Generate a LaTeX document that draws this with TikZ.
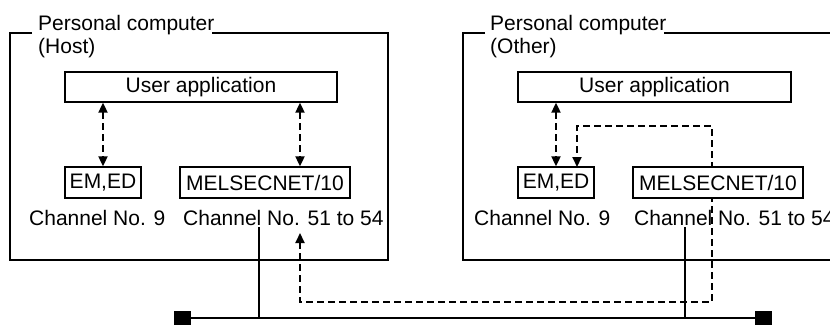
\documentclass[tikz,border=0pt]{standalone}
\usepackage{fontspec}
\setmainfont{Liberation Sans}
\usetikzlibrary{arrows.meta}
\begin{document}
\begin{tikzpicture}[x=1pt,y=-1pt,
  font=\fontsize{21}{25}\selectfont,
  frame/.style={line width=1.4pt},
  boxnode/.style={draw,line width=1.4pt,fill=white,inner sep=0pt,minimum height=30pt},
  txt/.style={inner sep=0pt,anchor=base west},
  darr/.style={line width=2.1pt,dash pattern=on 7pt off 4pt,{Triangle[length=10pt,width=9pt]}-{Triangle[length=10pt,width=9pt]}},
  solidline/.style={line width=2.1pt},
  term/.style={fill=black,inner sep=0pt,minimum width=17pt,minimum height=14pt}
]
\useasboundingbox (0,0) rectangle (830,324);
\clip (0,0) rectangle (830,324);

% frames
\draw[frame] (32,33) -- (10,33) -- (10,260) -- (388,260) -- (388,33) -- (212,33);
\draw[frame] (485,33) -- (463,33) -- (463,260) -- (845,260) -- (845,33) -- (664,33);

% titles
\node[txt] (t1) at (38,30) {Personal computer};
\node[txt] (h1) at (38,53) {(Host)};
\node[txt] (t2) at (490,30) {Personal computer};
\node[txt] (h2) at (490,53) {(Other)};

% dashed cross-station path (drawn under boxes)
\coordinate (dA) at (300,233);
\coordinate (dB) at (300,302);
\coordinate (dC) at (712,302);
\coordinate (dD) at (712,126);
\coordinate (dE) at (577,126);
\coordinate (dF) at (577,167);
\draw[darr] (dA) -- (dB) -- (dC) -- (dD) -- (dE) -- (dF);

% left station
\node[boxnode,minimum width=272pt] (ua1) at (201,87) {User application};
\node[boxnode,minimum width=76pt,minimum height=31pt] (em1) at (103,182.5) {EM,ED};
\node[boxnode,minimum width=170pt,minimum height=31pt] (mn1) at (265,182.5) {MELSECNET/10};
\node[txt] (c9a) at (29,225) {Channel No. 9};
\node[txt] (c51a) at (183,225) {Channel No. 51 to 54};

% right station
\node[boxnode,minimum width=273pt] (ua2) at (654.5,87) {User application};
\node[boxnode,minimum width=76pt,minimum height=31pt] (em2) at (556,182.5) {EM,ED};
\node[boxnode,minimum width=170pt,minimum height=31pt] (mn2) at (718,182.5) {MELSECNET/10};
\node[txt] (c9b) at (474,225) {Channel No. 9};
\node[txt] (c51b) at (634,225) {Channel No. 51 to 54};

% internal arrows
\coordinate (a1) at (300,0);
\draw[darr] (ua1.south -| em1.north) -- (em1.north);
\draw[darr] (ua1.south -| a1) -- (mn1.north -| a1);
\draw[darr] (ua2.south -| em2.north) -- (em2.north);

% bus
\node[term] (sq1) at (182.5,318) {};
\node[term] (sq2) at (763.5,318) {};
\draw[solidline] (sq1) -- (sq2);
\coordinate (v1) at (259,227);
\coordinate (v2) at (685,227);
\draw[solidline] (v1) -- (v1 |- sq1);
\draw[solidline] (v2) -- (v2 |- sq2);
\end{tikzpicture}
\end{document}
